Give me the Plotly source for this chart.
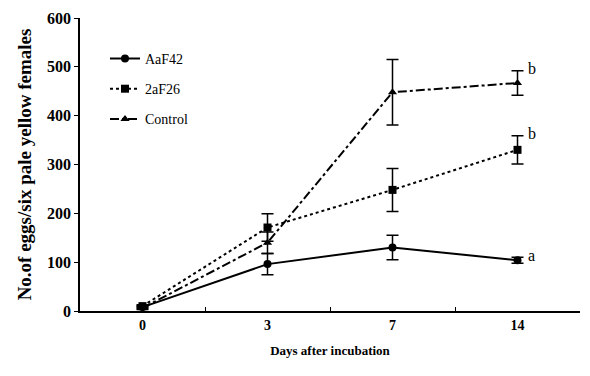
import plotly.graph_objects as go

days = ["0", "3", "7", "14"]
aaf42 = [8, 96, 130, 104]
aaf42_err = [3, 22, 25, 6]
af26 = [10, 171, 248, 330]
af26_err = [3, 28, 44, 29]
control = [6, 140, 448, 467]
control_err = [3, 22, 67, 25]
letters = ["a", "b", "b"]

font_family = "Liberation Serif"
fig = go.Figure()
series = [
    ("AaF42", aaf42, aaf42_err, "solid", "circle"),
    ("2aF26", af26, af26_err, "dot", "square"),
    ("Control", control, control_err, "dashdot", "triangle-up"),
]
for name, ys, es, dash, sym in series:
    fig.add_trace(go.Scatter(
        x=days, y=ys, name=name, mode="lines+markers", legendgroup=name,
        line=dict(color="black", width=2, dash=dash),
        marker=dict(color="black", symbol=sym, size=8),
        error_y=dict(type="data", array=es, visible=True, color="black", thickness=1.5, width=6),
    ))

# significance letters at day 14 (category index of last day)
last_idx = len(days) - 1
for ys, es, lab in zip([aaf42, af26, control], [aaf42_err, af26_err, control_err], letters):
    fig.add_annotation(x=last_idx, y=ys[-1] + es[-1], text=lab, showarrow=False,
                       xshift=14, yshift=2, font=dict(family=font_family, size=16, color="#000000"))

fig.update_layout(
    width=590, height=376,
    margin=dict(l=80, r=10, t=16, b=65),
    paper_bgcolor="white", plot_bgcolor="white",
    font=dict(family=font_family, color="black", size=12),
    showlegend=True,
    legend=dict(x=0.05, y=0.915, xanchor="left", yanchor="top", bgcolor="rgba(0,0,0,0)",
                font=dict(family=font_family, size=14), tracegroupgap=9),
    xaxis=dict(type="category", range=[-0.5, 3.5], showline=True, linecolor="black", linewidth=1.5,
               ticks="inside", tickson="boundaries", ticklen=4, tickcolor="black",
               showgrid=False, zeroline=False,
               tickprefix="<b>", ticksuffix="</b>",
               title=dict(text="<b>Days after incubation</b>", font=dict(size=13), standoff=14),
               tickfont=dict(size=14)),
    yaxis=dict(range=[0, 600], dtick=100, showline=True, linecolor="black", linewidth=1.5,
               ticks="outside", ticklen=4, tickcolor="black", showgrid=False, zeroline=False,
               tickprefix="<b>", ticksuffix="</b>",
               title=dict(text="<b>No.of eggs/six pale yellow females</b>", font=dict(size=19), standoff=10),
               tickfont=dict(size=16)),
)
fig.write_html("out.html")
